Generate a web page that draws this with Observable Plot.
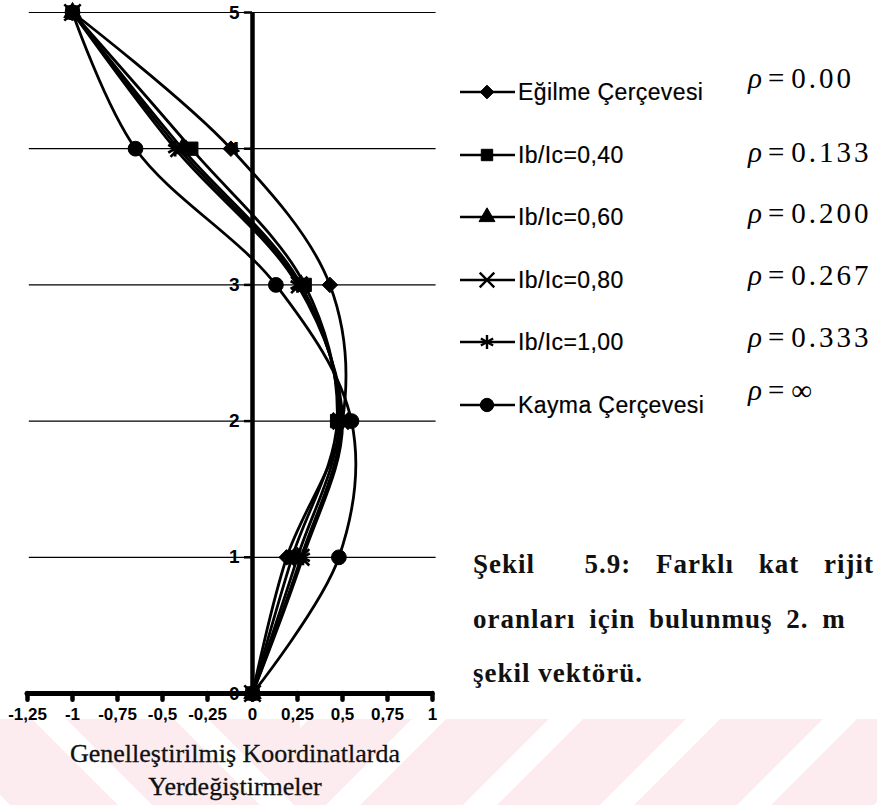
<!DOCTYPE html>
<html>
<head>
<meta charset="utf-8">
<script src="https://cdn.jsdelivr.net/npm/d3@7"></script>
<script src="https://cdn.jsdelivr.net/npm/@observablehq/plot@0.6"></script>
<style>
  html, body { margin: 0; padding: 0; background: #fff; }
  #page { position: relative; width: 877px; height: 805px; overflow: hidden; background: #fff; }
  #page > * { position: absolute; left: 0; top: 0; }
</style>
</head>
<body>
<div id="page"></div>
<script>
// Floors (kat) and the 2nd mode shape ordinates of each frame type
const floors = [0, 1, 2, 3, 4, 5];
const seriesNames = ["Eğilme Çerçevesi", "Ib/Ic=0,40", "Ib/Ic=0,60", "Ib/Ic=0,80", "Ib/Ic=1,00", "Kayma Çerçevesi"];
const rhoLabels = ["0.00", "0.133", "0.200", "0.267", "0.333", "∞"];

const egilme = [0, 0.19, 0.50, 0.43, -0.12, -1.0];
const ib040  = [0, 0.22, 0.47, 0.29, -0.34, -1.0];
const ib060  = [0, 0.25, 0.48, 0.27, -0.39, -1.0];
const ib080  = [0, 0.27, 0.49, 0.26, -0.41, -1.0];
const ib100  = [0, 0.28, 0.50, 0.25, -0.43, -1.0];
const kayma  = [0, 0.48, 0.55, 0.13, -0.65, -1.0];

const xTicks = [-1.25, -1, -0.75, -0.5, -0.25, 0, 0.25, 0.5, 0.75, 1];
const xTickLabels = ["-1,25", "-1", "-0,75", "-0,5", "-0,25", "0", "0,25", "0,5", "0,75", "1"];
const yTicks = [0, 1, 2, 3, 4, 5];
const yTickLabels = ["0", "1", "2", "3", "4", "5"];
const gridFloors = [1, 2, 3, 4, 5];

const axisTitleLines = ["Genelleştirilmiş Koordinatlarda", "Yerdeğiştirmeler"];
const captionLines = ["Şekil\u00a0 5.9: Farklı kat rijit", "oranları için bulunmuş 2. m", "şekil vektörü."];

const seriesValues = [egilme, ib040, ib060, ib080, ib100, kayma];

// marker look for each series
const markerStyle = [
  {symbol: "diamond2", r: 7,   filled: true,  sw: 1,   d3type: d3.symbolDiamond2, legendSize: 120},
  {symbol: "square",   r: 7.5, filled: true,  sw: 1,   d3type: d3.symbolSquare,   legendSize: 130},
  {symbol: "triangle", r: 6.5, filled: true,  sw: 1,   d3type: d3.symbolTriangle, legendSize: 110},
  {symbol: "times",    r: 7.5, filled: false, sw: 2.6, d3type: d3.symbolTimes,    legendSize: 140},
  {symbol: "asterisk", r: 7.5, filled: false, sw: 2.8, d3type: d3.symbolAsterisk, legendSize: 140},
  {symbol: "circle",   r: 7.4, filled: true,  sw: 1,   d3type: d3.symbolCircle,   legendSize: 140}
];
// markers are stacked so that the square series ends up on top
const markerOrder = [5, 3, 4, 2, 0, 1];

const rows = seriesNames.flatMap((name, i) =>
  floors.map((f, j) => ({series: name, floor: f, disp: seriesValues[i][j]}))
);

const page = document.getElementById("page");

// light diagonal-stripe band at the foot of the page
const wm = d3.create("svg").attr("width", 877).attr("height", 805);
const bandTop = 719, bandH = 805 - bandTop;
wm.append("rect").attr("x", 0).attr("y", bandTop).attr("width", 877).attr("height", bandH).attr("fill", "#fcecef");
wm.append("clipPath").attr("id", "leftClip").append("rect").attr("x", 0).attr("y", bandTop).attr("width", 300).attr("height", bandH);
wm.append("clipPath").attr("id", "rightClip").append("rect").attr("x", 300).attr("y", bandTop).attr("width", 577).attr("height", bandH);
const gl = wm.append("g").attr("clip-path", "url(#leftClip)").attr("fill", "#fff");
for (let a = -110; a < 320; a += 142) {
  gl.append("polygon").attr("points", `${a},${bandTop} ${a + 34},${bandTop} ${a + 34 + bandH},805 ${a + bandH},805`);
}
const gr = wm.append("g").attr("clip-path", "url(#rightClip)").attr("fill", "#fff");
for (let a = 275; a < 1000; a += 137) {
  gr.append("polygon").attr("points", `${a},${bandTop} ${a + 34},${bandTop} ${a + 34 - bandH},805 ${a - bandH},805`);
}
page.appendChild(wm.node());

// the chart
const chart = Plot.plot({
  width: 440,
  height: 730,
  marginLeft: 27,
  marginRight: 8,
  marginTop: 12,
  marginBottom: 37,
  x: {domain: [-1.25, 1], axis: null},
  y: {domain: [0, 5], axis: null},
  style: {background: "transparent", fontFamily: "'Liberation Sans', Arial, sans-serif", color: "black"},
  marks: [
    Plot.ruleY(gridFloors, {x1: -1.24, x2: 1.02, stroke: "black", strokeWidth: 1.2}),
    Plot.ruleX([0], {y1: 0, y2: 5, stroke: "black", strokeWidth: 4.5}),
    Plot.ruleY(yTicks, {x1: -0.045, x2: 0, stroke: "black", strokeWidth: 2.5}),
    Plot.ruleY([0], {x1: -1.25, x2: 1, stroke: "black", strokeWidth: 5, strokeLinecap: "round"}),
    Plot.ruleX(xTicks, {y1: 0, y2: -0.05, stroke: "black", strokeWidth: 4.5, strokeLinecap: "round"}),
    Plot.text(xTicks, {x: d => d, y: 0, dy: 21, text: (d, i) => xTickLabels[i], fontSize: 17, fontWeight: "bold", fill: "black"}),
    Plot.text(yTicks, {x: 0, y: d => d, dx: -13, textAnchor: "end", text: (d, i) => yTickLabels[i], fontSize: 19, fontWeight: "bold", fill: "black"}),
    Plot.line(rows, {x: "disp", y: "floor", z: "series", curve: "catmull-rom", stroke: "black", strokeWidth: 2.8}),
    ...markerOrder.map(i =>
      Plot.dot(rows.filter(d => d.series === seriesNames[i]), {
        x: "disp", y: "floor",
        symbol: markerStyle[i].symbol,
        r: markerStyle[i].r,
        fill: markerStyle[i].filled ? "black" : "none",
        stroke: "black",
        strokeWidth: markerStyle[i].sw
      })
    )
  ]
});
page.appendChild(chart);

// axis title, legend and figure caption
const ov = d3.create("svg").attr("width", 877).attr("height", 805);
const serif = "'Liberation Serif', 'Times New Roman', serif";
const sans = "'Liberation Sans', Arial, sans-serif";

ov.append("g")
  .selectAll("text").data(axisTitleLines).join("text")
  .attr("x", 235).attr("y", (d, i) => 762 + i * 33)
  .attr("text-anchor", "middle")
  .attr("font-family", serif).attr("font-size", 26).attr("fill", "#111")
  .attr("stroke", "#111").attr("stroke-width", 0.3)
  .text(d => d);

const rowY = [92, 155, 217, 280, 342, 405];
const rhoY = [88, 162, 223, 285, 347, 400];
const lg = ov.append("g");
seriesNames.forEach((name, i) => {
  const y = rowY[i];
  lg.append("line").attr("x1", 460).attr("x2", 515).attr("y1", y).attr("y2", y)
    .attr("stroke", "black").attr("stroke-width", 2.4);
  const st = markerStyle[i];
  lg.append("path")
    .attr("d", d3.symbol(st.d3type, st.legendSize)())
    .attr("transform", `translate(487,${y})`)
    .attr("fill", st.filled ? "black" : "none")
    .attr("stroke", "black").attr("stroke-width", st.filled ? 1 : 2.4);
  lg.append("text").attr("x", 518).attr("y", y + 8)
    .attr("font-family", sans).attr("font-size", 23).attr("letter-spacing", 0.4)
    .attr("fill", "black").attr("stroke", "black").attr("stroke-width", 0.2)
    .text(name);
  const t = lg.append("text").attr("x", 748).attr("y", rhoY[i])
    .attr("font-family", serif).attr("font-size", 29).attr("fill", "black");
  t.append("tspan").attr("font-style", "italic").text("ρ");
  t.append("tspan").attr("dx", 6).text("=");
  t.append("tspan").attr("dx", 7).attr("letter-spacing", 3).text(rhoLabels[i]);
});

const capSpacing = [17, 6, 0];
ov.append("g")
  .selectAll("text").data(captionLines).join("text")
  .attr("x", 473).attr("y", (d, i) => 573 + i * 54.5)
  .attr("font-family", serif).attr("font-size", 27).attr("font-weight", "bold")
  .attr("letter-spacing", 1)
  .attr("word-spacing", (d, i) => capSpacing[i])
  .attr("fill", "#111")
  .text(d => d);

page.appendChild(ov.node());
</script>
</body>
</html>
